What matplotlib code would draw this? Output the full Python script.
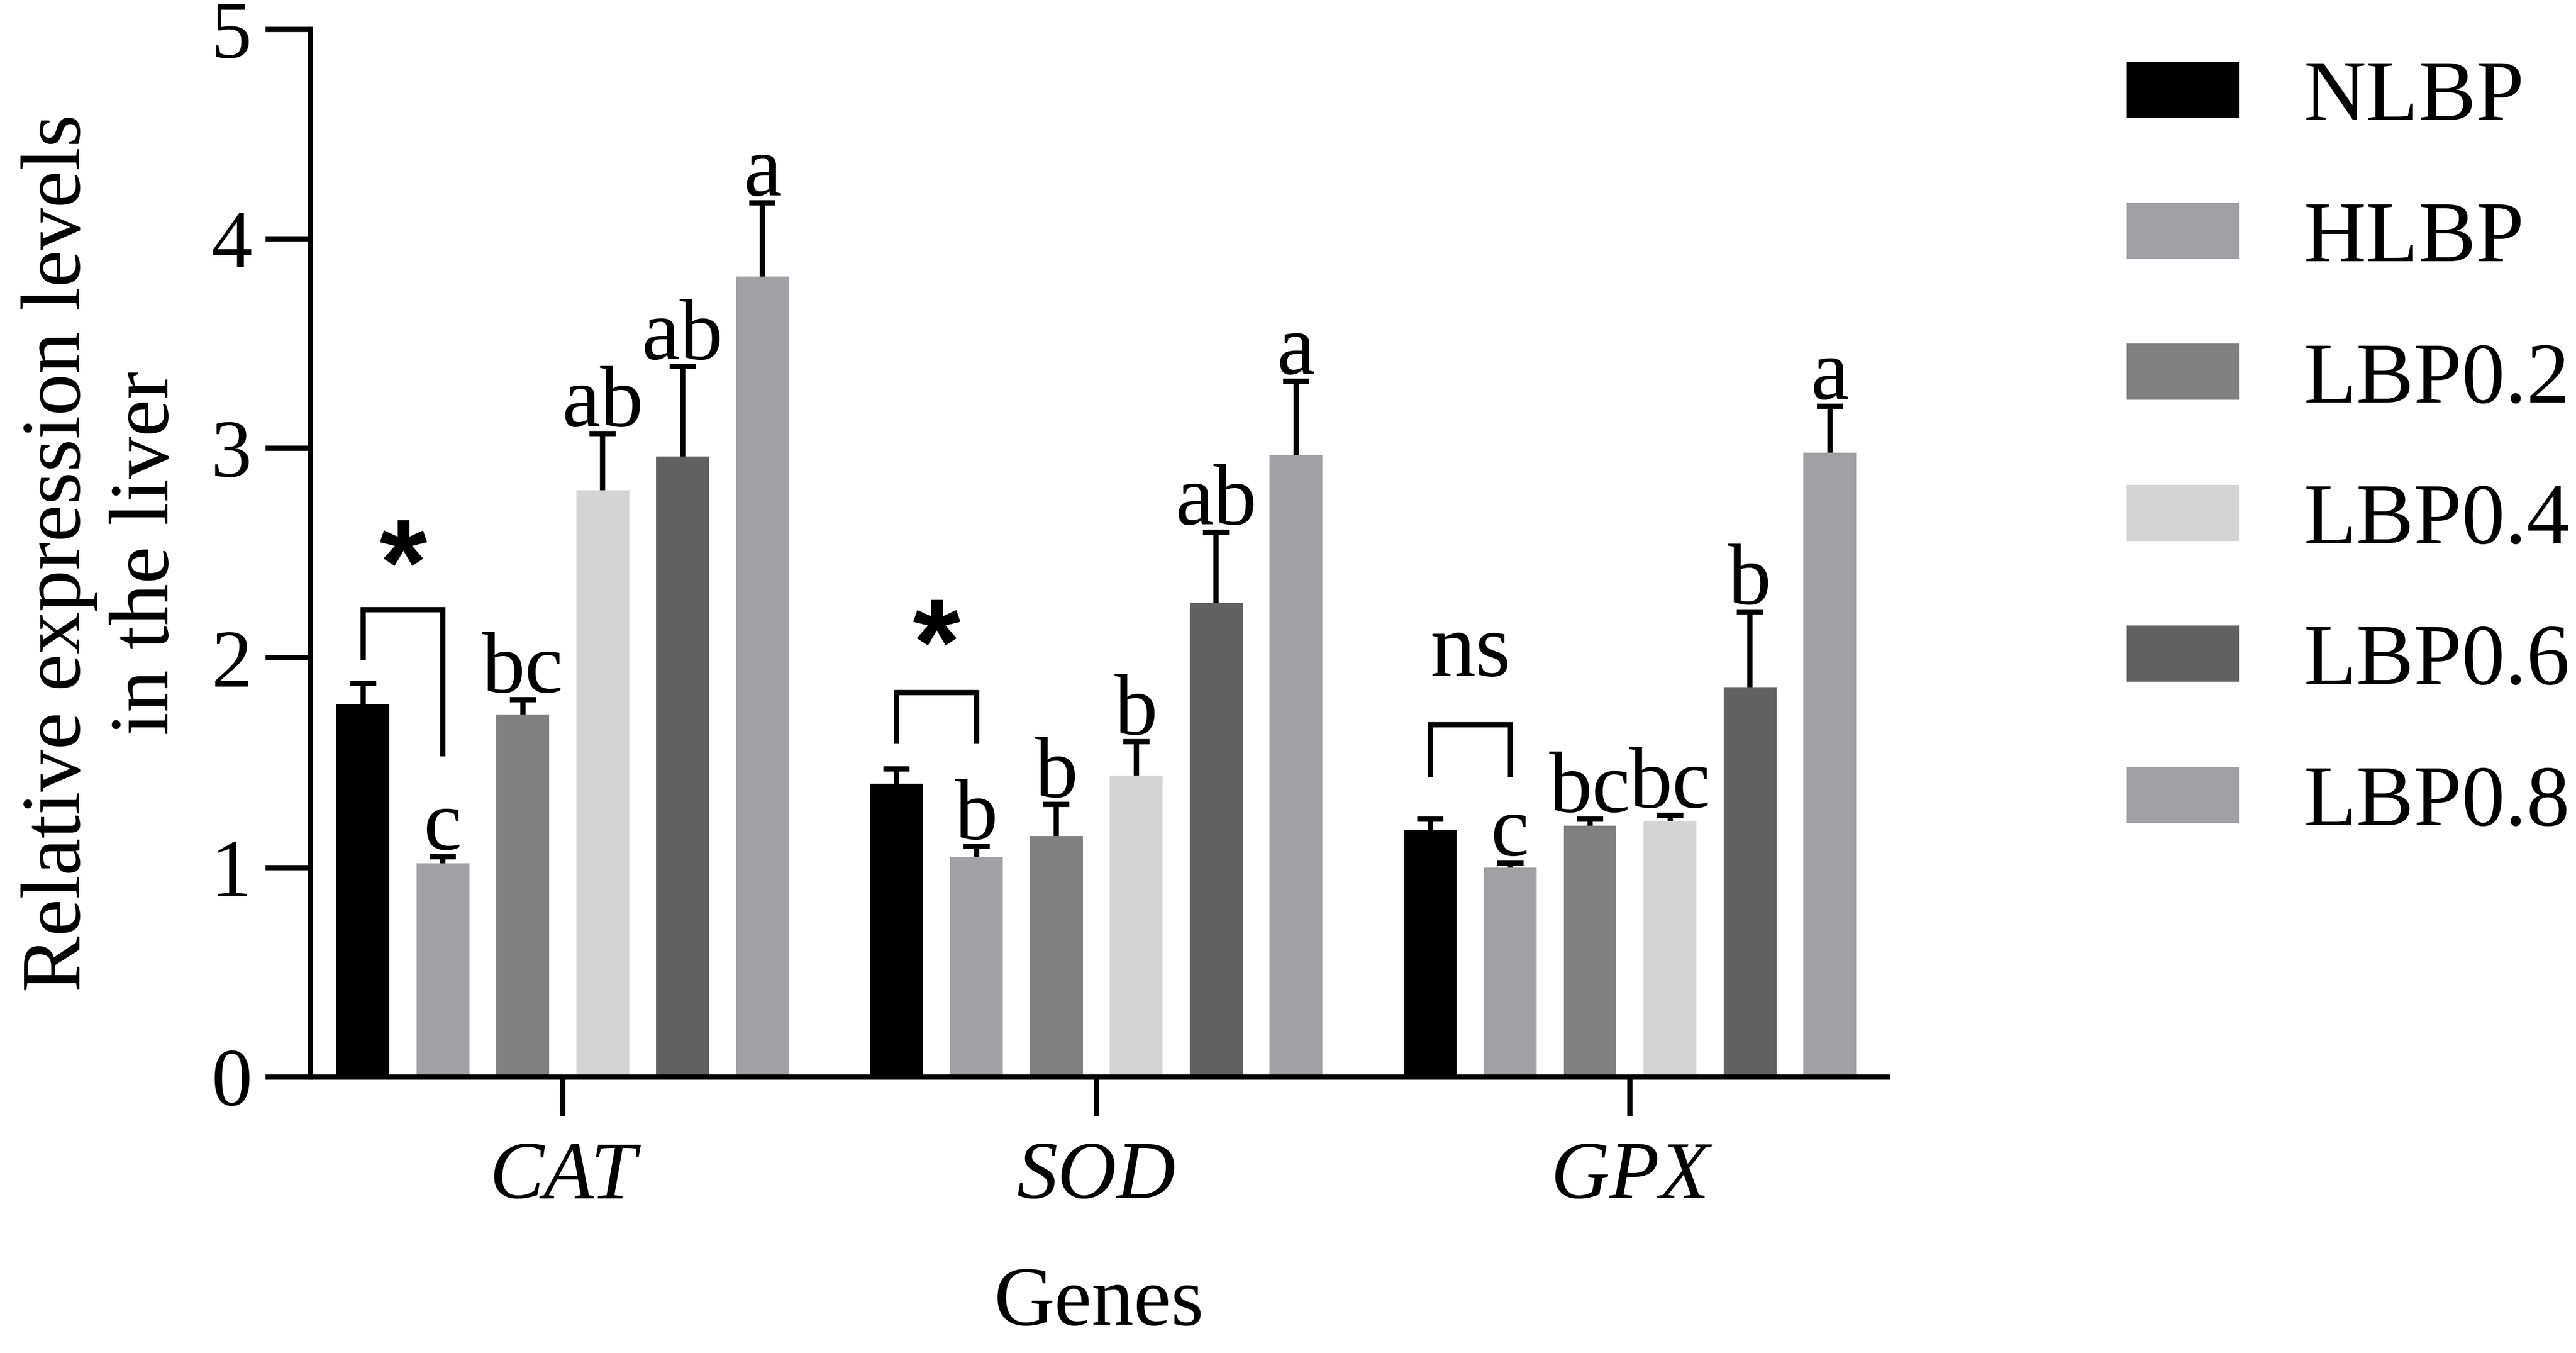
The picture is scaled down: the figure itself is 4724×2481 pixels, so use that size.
import numpy as np
import matplotlib
matplotlib.use("Agg")
import matplotlib.pyplot as plt

plt.rcParams['font.family'] = ['Liberation Serif', 'DejaVu Serif']

genes = ['CAT', 'SOD', 'GPX']
groups = ['NLBP', 'HLBP', 'LBP0.2', 'LBP0.4', 'LBP0.6', 'LBP0.8']
colors = ['#000000', '#a1a1a5', '#808080', '#d4d4d4', '#616161', '#a1a1a5']

# means per gene (rows) for each group (columns)
means = [
    [1.78, 1.02, 1.73, 2.80, 2.96, 3.82],   # CAT
    [1.40, 1.05, 1.15, 1.44, 2.26, 2.97],   # SOD
    [1.18, 1.00, 1.20, 1.22, 1.86, 2.98],   # GPX
]
errors = [
    [0.10, 0.03, 0.07, 0.27, 0.43, 0.35],
    [0.07, 0.05, 0.15, 0.16, 0.34, 0.35],
    [0.05, 0.02, 0.03, 0.03, 0.36, 0.22],
]
letters = [
    ['', 'c', 'bc', 'ab', 'ab', 'a'],
    ['', 'b', 'b', 'b', 'ab', 'a'],
    ['', 'c', 'bc', 'bc', 'b', 'a'],
]
# NLBP vs HLBP comparison brackets
sig_marks = ['*', '*', 'ns']
bracket_left = [1.99, 1.59, 1.43]
bracket_top = [2.23, 1.835, 1.68]
bracket_right = [1.53, 1.59, 1.43]
mark_y = [2.59, 2.21, 1.915]

yticks = [0, 1, 2, 3, 4, 5]

W, H = 4724, 2481
dpi = 300
fig = plt.figure(figsize=(W / dpi, H / dpi), dpi=dpi)
ax = fig.add_axes([569 / W, 1 - 1975 / H, (3462 - 569) / W, (1975 - 53.5) / H])

lw = 2.3
bar_w = 0.099
step = 0.1497
x = np.arange(len(genes))
means_a = np.array(means)
err_a = np.array(errors)

for j, g in enumerate(groups):
    xpos = x + (j - 2.5) * step
    ax.errorbar(xpos, means_a[:, j], yerr=err_a[:, j], fmt='none', ecolor='black',
                elinewidth=lw, capsize=5.8, capthick=lw, zorder=1)
    ax.bar(xpos, means_a[:, j], width=bar_w, color=colors[j], label=g,
           linewidth=0, zorder=2)
    for i in range(len(genes)):
        if letters[i][j]:
            ax.annotate(letters[i][j], (xpos[i], means_a[i, j] + err_a[i, j]),
                        xytext=(0, 3.5), textcoords='offset points',
                        ha='center', va='baseline', fontsize=38, zorder=3)

for i in range(len(genes)):
    xl = x[i] - 2.5 * step
    xr = x[i] - 1.5 * step
    ax.plot([xl, xl, xr, xr], [bracket_left[i], bracket_top[i], bracket_top[i], bracket_right[i]],
            color='black', lw=lw, solid_joinstyle='miter', solid_capstyle='butt', zorder=3)
    xm = (xl + xr) / 2
    if sig_marks[i] == '*':
        ax.annotate('*', (xm, mark_y[i]), xytext=(0, -0.57 * 54), textcoords='offset points',
                    ha='center', va='baseline', fontsize=54, fontweight='bold',
                    family=['Liberation Sans', 'DejaVu Sans'], zorder=3)
    else:
        ax.annotate(sig_marks[i], (xm, mark_y[i]), xytext=(0, 0), textcoords='offset points',
                    ha='center', va='baseline', fontsize=40, zorder=3)

ax.set_xlim(-0.473, 2.483)
ax.set_ylim(0, 5)
ax.set_yticks(yticks)
ax.set_xticks(x)
ax.set_xticklabels(genes, fontstyle='italic')
for s in ['top', 'right']:
    ax.spines[s].set_visible(False)
for s in ['left', 'bottom']:
    ax.spines[s].set_linewidth(lw)
ax.tick_params(axis='y', length=19.7, width=lw, pad=6, labelsize=36)
ax.tick_params(axis='x', length=17.3, width=lw, pad=11, labelsize=36)

ax.set_xlabel('Genes', fontsize=37, labelpad=22)
ax.set_ylabel('Relative expression levels\nin the liver', fontsize=37, labelpad=11,
              linespacing=1.2)

fig.legend(loc='upper left', bbox_to_anchor=(3900 / W, 1 - 110 / H), frameon=False,
           fontsize=38, handlelength=1.30, handleheight=0.62, handletextpad=0.75,
           labelspacing=0.72, borderpad=0, borderaxespad=0)

fig.savefig('out.png', dpi=dpi)
